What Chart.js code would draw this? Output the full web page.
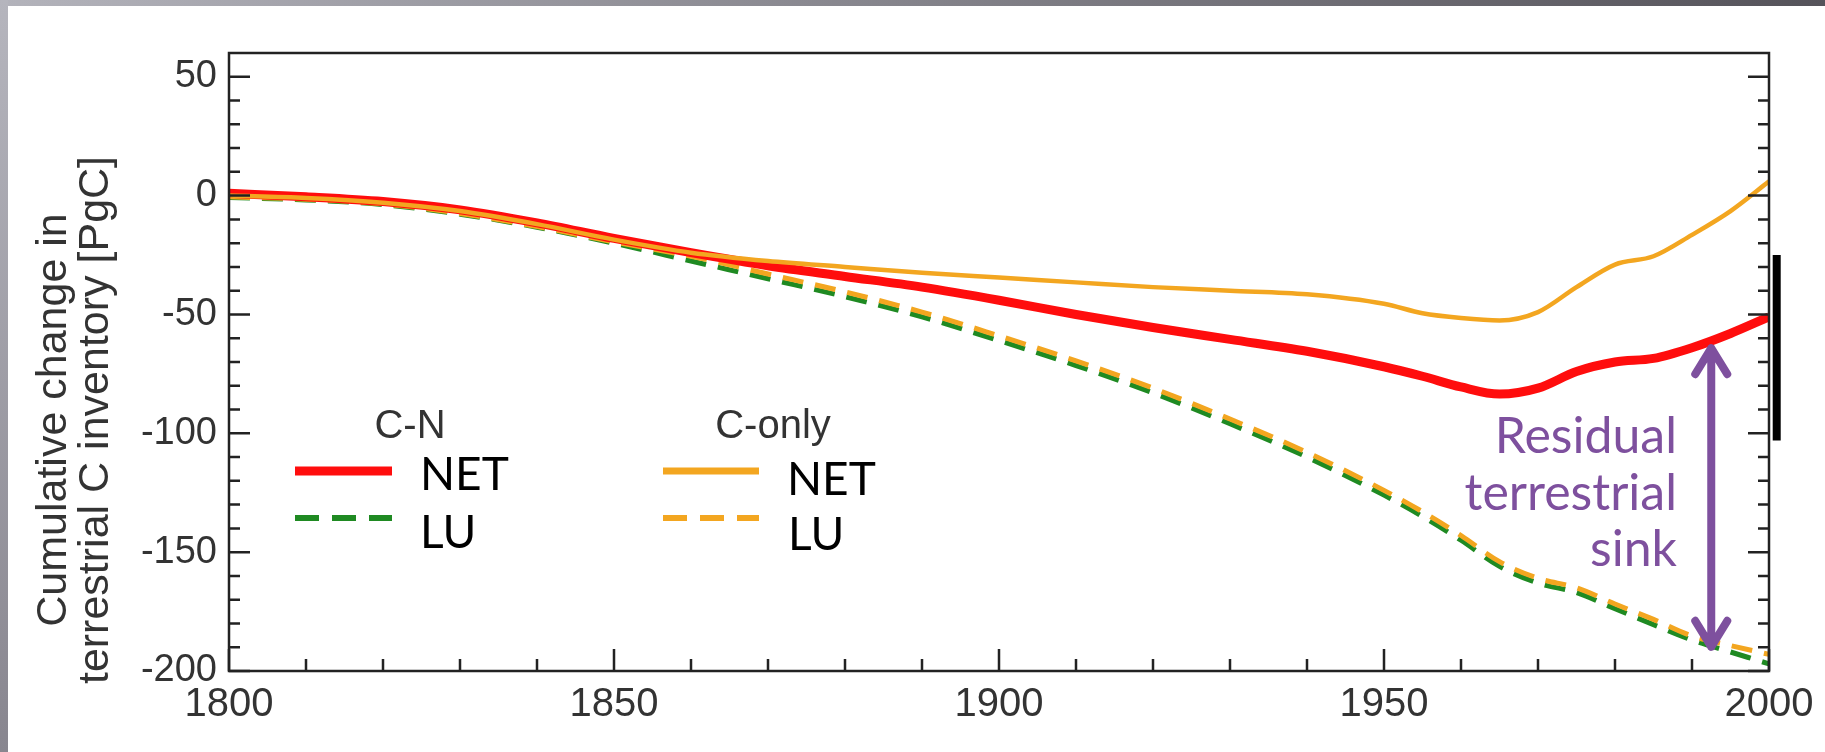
<!DOCTYPE html>
<html>
<head>
<meta charset="utf-8">
<title>Cumulative change in terrestrial C inventory</title>
<script src="https://cdn.jsdelivr.net/npm/chart.js@4.4.1/dist/chart.umd.min.js"></script>
<style>
  html, body { margin: 0; padding: 0; background: #fff; }
  #wrap { position: relative; width: 1825px; height: 752px; }
</style>
</head>
<body>
<div id="wrap"><canvas id="chart"></canvas></div>
<script>
// values
var years     = [1800,1810,1820,1830,1840,1850,1860,1870,1880,1890,1900,1910,1920,1930,1940,1950,1955,1960,1965,1970,1975,1980,1985,1990,1995,2000];
var cnNet     = [1, -0.5, -2.5, -6, -11.5, -18, -24, -29.5, -34, -38.5, -44, -50, -55.5, -60.5, -65.5, -72, -76, -80.5, -83.5, -81, -74, -70, -68.5, -64, -58, -51];
var cnLu      = [-0.8, -1.8, -3.8, -7.8, -13.3, -20, -27.5, -35, -42.5, -51, -61, -71.5, -83, -96, -110, -126, -135, -145, -156, -163, -167, -173.8, -180.5, -187, -192, -197];
var cOnlyNet  = [0, -1, -3, -6.5, -12, -18.5, -24, -27.5, -30, -32.5, -34.5, -36.5, -38.5, -40, -41.5, -45.5, -49.5, -51.5, -52.5, -49, -38.5, -29, -25.5, -16.5, -6.5, 6];
var cOnlyLu   = [-0.5, -1.5, -3.5, -7.5, -13, -19.5, -25.5, -33, -40.5, -49, -59, -69.5, -81, -94, -108, -124, -133, -143, -154, -161, -165, -171.8, -178.3, -185.3, -189.3, -193];

// observed range drawn as the black bar just right of 2000
var obsYear  = 2001;
var obsRange = [-25, -103];

// residual terrestrial sink arrow
var sinkYear   = 1992.5;
var sinkTop    = -62.5;
var sinkBottom = -191.5;

var xTicks = [1800, 1850, 1900, 1950, 2000];
var yTicks = [-200, -150, -100, -50, 0, 50];
var yTitle = ['Cumulative change in', 'terrestrial C inventory [PgC]'];
var sinkLabel = ['Residual', 'terrestrial', 'sink'];
var groupNames = ['C-N', 'C-only'];
var itemNames = ['NET', 'LU'];

var RED = '#ff0d0d', GREEN = '#1f8a22', ORANGE = '#f3a620', PURPLE = '#7e509e';

function pts(vals) {
  return years.map(function(yr, i) { return {x: yr, y: vals[i]}; });
}

var framePlugin = {
  id: 'frame',
  beforeDraw: function(chart) {
    var ctx = chart.ctx, w = chart.width, h = chart.height;
    ctx.save();
    ctx.fillStyle = '#fff';
    ctx.fillRect(0, 0, w, h);
    var g = ctx.createLinearGradient(0, 0, w, 0);
    g.addColorStop(0, '#b3b3bb');
    g.addColorStop(1, '#55535a');
    ctx.fillStyle = g;
    ctx.fillRect(0, 0, w, 6);
    var g2 = ctx.createLinearGradient(0, 0, 0, h);
    g2.addColorStop(0, '#b5b5bd');
    g2.addColorStop(1, '#88868f');
    ctx.fillStyle = g2;
    ctx.fillRect(0, 0, 8, h);
    ctx.restore();
  },
  afterDatasetsDraw: function(chart) {
    var a = chart.chartArea, ctx = chart.ctx;
    var xs = chart.scales.x, ys = chart.scales.y;
    ctx.save();
    ctx.strokeStyle = '#222';
    ctx.lineWidth = 2.5;
    ctx.strokeRect(a.left, a.top, a.right - a.left, a.bottom - a.top);
    ctx.beginPath();
    for (var yr = 1800; yr <= 2000; yr += 10) {
      var px = xs.getPixelForValue(yr);
      var len = yr % 50 === 0 ? 22 : 12;
      ctx.moveTo(px, a.bottom); ctx.lineTo(px, a.bottom - len);
    }
    for (var v = -200; v <= 50; v += 10) {
      var py = ys.getPixelForValue(v);
      var l2 = v % 50 === 0 ? 21 : 11;
      ctx.moveTo(a.left, py); ctx.lineTo(a.left + l2, py);
      ctx.moveTo(a.right, py); ctx.lineTo(a.right - l2, py);
    }
    ctx.stroke();
    ctx.restore();
  },
  afterDraw: function(chart) {
    var ctx = chart.ctx;
    var xs = chart.scales.x, ys = chart.scales.y;
    var ds = chart.data.datasets;

    // y axis title, two rotated lines
    ctx.save();
    ctx.translate(0, 420);
    ctx.rotate(-Math.PI / 2);
    ctx.font = '43px "Liberation Sans", Arial, sans-serif';
    ctx.fillStyle = '#333';
    ctx.textAlign = 'center';
    ctx.textBaseline = 'alphabetic';
    ctx.fillText(yTitle[0], 0, 66);
    ctx.fillText(yTitle[1], 0, 108);
    ctx.restore();

    // legend
    function swatch(d, x1, x2, y, w) {
      ctx.save();
      ctx.strokeStyle = d.borderColor;
      ctx.lineWidth = w;
      ctx.setLineDash(d.borderDash ? [24, 13] : []);
      ctx.beginPath(); ctx.moveTo(x1, y); ctx.lineTo(x2, y); ctx.stroke();
      ctx.restore();
    }
    ctx.save();
    ctx.fillStyle = '#333';
    ctx.font = '40px "Liberation Sans", Arial, sans-serif';
    ctx.textAlign = 'center';
    ctx.fillText(groupNames[0], 410, 438);
    ctx.fillText(groupNames[1], 773, 438);
    swatch(ds[0], 295, 392, 471, 9);
    swatch(ds[1], 295, 392, 518, 6);
    swatch(ds[2], 663, 759, 471, 7);
    swatch(ds[3], 663, 759, 518, 6);
    ctx.fillStyle = '#000';
    ctx.font = '46px Lato, "Noto Sans", sans-serif';
    ctx.textAlign = 'left';
    ctx.fillText(itemNames[0], 420, 490);
    ctx.fillText(itemNames[1], 420, 548);
    ctx.fillText(itemNames[0], 787, 495);
    ctx.fillText(itemNames[1], 788, 550);
    ctx.restore();

    // residual sink arrow + label
    var px = xs.getPixelForValue(sinkYear);
    var top = ys.getPixelForValue(sinkTop), bot = ys.getPixelForValue(sinkBottom);
    ctx.save();
    ctx.strokeStyle = PURPLE;
    ctx.lineWidth = 8;
    ctx.lineCap = 'round';
    ctx.lineJoin = 'round';
    ctx.beginPath();
    ctx.moveTo(px, top + 4); ctx.lineTo(px, bot - 4);
    ctx.moveTo(px - 16, top + 30); ctx.lineTo(px, top + 4); ctx.lineTo(px + 16, top + 30);
    ctx.moveTo(px - 16, bot - 30); ctx.lineTo(px, bot - 4); ctx.lineTo(px + 16, bot - 30);
    ctx.stroke();
    ctx.fillStyle = PURPLE;
    ctx.font = '50px Lato, "Noto Sans", sans-serif';
    ctx.textAlign = 'right';
    ctx.fillText(sinkLabel[0], 1677, 453);
    ctx.fillText(sinkLabel[1], 1677, 510);
    ctx.fillText(sinkLabel[2], 1677, 566);
    ctx.restore();
  }
};

new Chart(document.getElementById('chart'), {
  type: 'line',
  data: {
    datasets: [
      { label: 'C-N NET', data: pts(cnNet), borderColor: RED, borderWidth: 9, order: 1 },
      { label: 'C-N LU', data: pts(cnLu), borderColor: GREEN, borderWidth: 5, borderDash: [21, 12], order: 3 },
      { label: 'C-only NET', data: pts(cOnlyNet), borderColor: ORANGE, borderWidth: 4.5, order: 0 },
      { label: 'C-only LU', data: pts(cOnlyLu), borderColor: ORANGE, borderWidth: 5, borderDash: [21, 12], order: 2 },
      { label: 'obs', data: [{x: obsYear, y: obsRange[0]}, {x: obsYear, y: obsRange[1]}],
        borderColor: '#000', borderWidth: 8, clip: false, tension: 0, cubicInterpolationMode: 'default', order: 4 }
    ]
  },
  options: {
    responsive: true,
    maintainAspectRatio: false,
    animation: false,
    events: [],
    layout: { padding: { top: 53, right: 56, left: 0, bottom: 0 } },
    elements: {
      point: { radius: 0 },
      line: { cubicInterpolationMode: 'monotone', fill: false, borderCapStyle: 'butt' }
    },
    plugins: { legend: { display: false }, tooltip: { enabled: false } },
    scales: {
      x: {
        type: 'linear', min: 1800, max: 2000,
        grid: { display: false, drawTicks: false },
        border: { display: false },
        afterBuildTicks: function(s) { s.ticks = xTicks.map(function(v) { return {value: v}; }); },
        afterFit: function(s) { s.height = 81; },
        ticks: {
          color: '#333', padding: 10, maxRotation: 0, autoSkip: false,
          font: { family: '"Liberation Sans", Arial, sans-serif', size: 40 },
          callback: function(v) { return String(v); }
        }
      },
      y: {
        type: 'linear', min: -200, max: 60,
        grid: { display: false, drawTicks: false },
        border: { display: false },
        afterBuildTicks: function(s) { s.ticks = yTicks.map(function(v) { return {value: v}; }); },
        afterFit: function(s) { s.width = 229; },
        ticks: {
          color: '#333', padding: 12, autoSkip: false,
          font: { family: '"Liberation Sans", Arial, sans-serif', size: 38 },
          callback: function(v) { return String(v); }
        }
      }
    }
  },
  plugins: [framePlugin]
});
</script>
</body>
</html>
